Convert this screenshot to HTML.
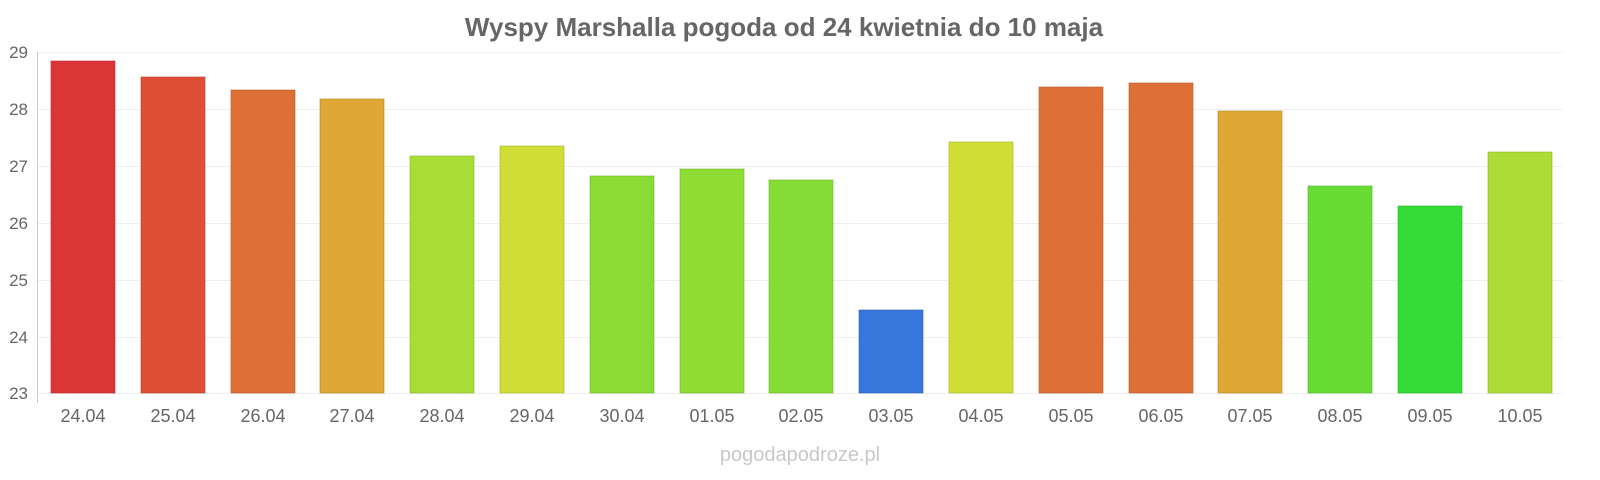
<!DOCTYPE html>
<html><head><meta charset="utf-8"><style>
html,body{margin:0;padding:0;background:#fff;}
svg{display:block;font-family:"Liberation Sans",sans-serif;}
</style></head><body>
<svg width="1600" height="480" xmlns="http://www.w3.org/2000/svg">
<text x="784" y="36" text-anchor="middle" font-size="26" font-weight="bold" fill="#666">Wyspy Marshalla pogoda od 24 kwietnia do 10 maja</text>
<g stroke="#eee" stroke-width="1">
<line x1="37" x2="1563" y1="52.5" y2="52.5"/><line x1="37" x2="1563" y1="109.5" y2="109.5"/><line x1="37" x2="1563" y1="166.5" y2="166.5"/><line x1="37" x2="1563" y1="223.5" y2="223.5"/><line x1="37" x2="1563" y1="280.5" y2="280.5"/><line x1="37" x2="1563" y1="337.5" y2="337.5"/><line x1="37" x2="1563" y1="393.5" y2="393.5"/>
</g>
<line x1="37.5" x2="37.5" y1="52" y2="403" stroke="#ccc"/>
<g font-size="17" fill="#666" text-anchor="end">
<text x="28" y="58">29</text><text x="28" y="115">28</text><text x="28" y="172">27</text><text x="28" y="229">26</text><text x="28" y="286">25</text><text x="28" y="343">24</text><text x="28" y="399">23</text>
</g>
<g stroke-width="1" stroke-opacity="0.6">
<rect x="51" y="61" width="64" height="332" fill="#dc3535" stroke="#b02a2a"/>
<rect x="141" y="77" width="64" height="316" fill="#de4f35" stroke="#b0402a"/>
<rect x="231" y="90" width="64" height="303" fill="#df7035" stroke="#b05a2a"/>
<rect x="320" y="99" width="64" height="294" fill="#dfa835" stroke="#b0852a"/>
<rect x="410" y="156" width="64" height="237" fill="#a8dd35" stroke="#85b02a"/>
<rect x="500" y="146" width="64" height="247" fill="#cfdd35" stroke="#a5b02a"/>
<rect x="590" y="176" width="64" height="217" fill="#8adc35" stroke="#6eb02a"/>
<rect x="680" y="169" width="64" height="224" fill="#8fdc35" stroke="#72b02a"/>
<rect x="769" y="180" width="64" height="213" fill="#86dc35" stroke="#6bb02a"/>
<rect x="859" y="310" width="64" height="83" fill="#3577dc" stroke="#2a5fb0"/>
<rect x="949" y="142" width="64" height="251" fill="#cfdd35" stroke="#a5b02a"/>
<rect x="1039" y="87" width="64" height="306" fill="#df7035" stroke="#b05a2a"/>
<rect x="1129" y="83" width="64" height="310" fill="#df7035" stroke="#b05a2a"/>
<rect x="1218" y="111" width="64" height="282" fill="#dfa835" stroke="#b0852a"/>
<rect x="1308" y="186" width="64" height="207" fill="#68dc35" stroke="#53b02a"/>
<rect x="1398" y="206" width="64" height="187" fill="#35dc35" stroke="#2ab02a"/>
<rect x="1488" y="152" width="64" height="241" fill="#addd35" stroke="#8ab02a"/>
</g>
<g font-size="18" fill="#666" text-anchor="middle">
<text x="83" y="422">24.04</text><text x="173" y="422">25.04</text><text x="263" y="422">26.04</text><text x="352" y="422">27.04</text><text x="442" y="422">28.04</text><text x="532" y="422">29.04</text><text x="622" y="422">30.04</text><text x="712" y="422">01.05</text><text x="801" y="422">02.05</text><text x="891" y="422">03.05</text><text x="981" y="422">04.05</text><text x="1071" y="422">05.05</text><text x="1161" y="422">06.05</text><text x="1250" y="422">07.05</text><text x="1340" y="422">08.05</text><text x="1430" y="422">09.05</text><text x="1520" y="422">10.05</text>
</g>
<text x="800" y="461" text-anchor="middle" font-size="20" fill="#c8c8c8">pogodapodroze.pl</text>
</svg>
</body></html>
